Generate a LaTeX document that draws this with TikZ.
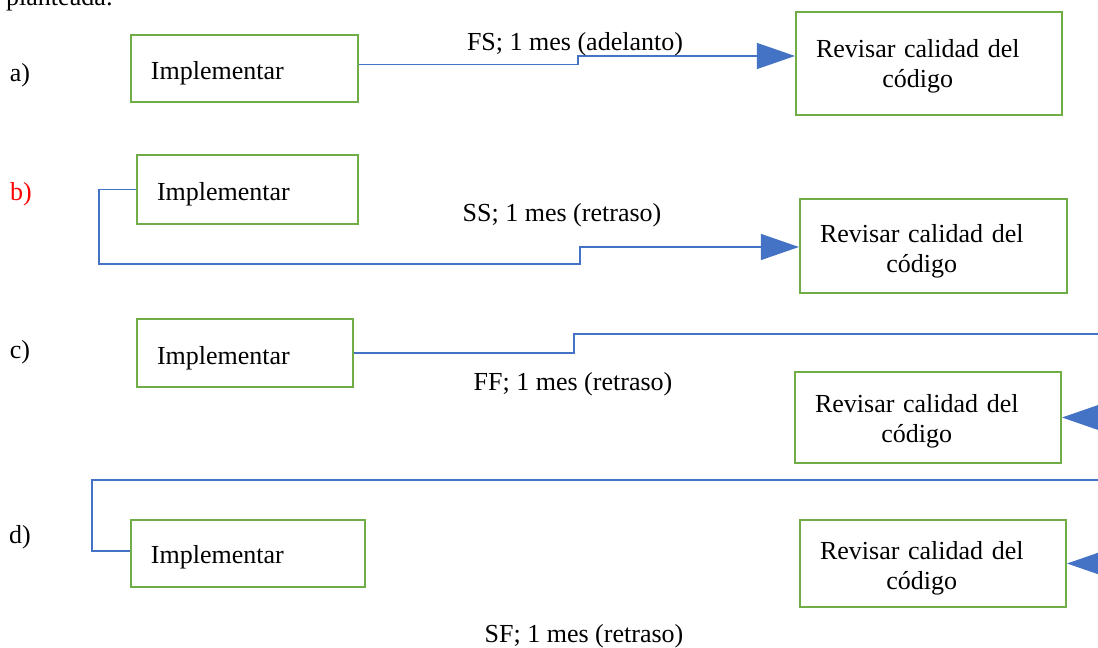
\documentclass[tikz,border=0pt]{standalone}
\usepackage{fontspec}
\setmainfont{Liberation Serif}
\usetikzlibrary{arrows.meta}
\definecolor{verde}{HTML}{70AD47}
\definecolor{azul}{HTML}{4472C4}
\newcommand{\revisar}{\begin{tabular}[t]{@{}c@{}}Revisar calidad del\\código\end{tabular}}

\begin{document}
\begin{tikzpicture}[x=0.2mm, y=-0.2mm,
    every node/.style={font=\fontsize{14.8}{17}\selectfont},
    tarea/.style={draw=verde, line width=1.2pt, inner xsep=4mm, inner ysep=0pt, align=left},
    linea/.style={draw=azul, line width=0.6pt},
    flecha/.style={linea, -{Triangle[length=7.6mm, width=5.2mm]}}]
   \useasboundingbox (0,0) rectangle (1098,648);
   \node[anchor=base west] (intro) at (0,6) {planteada:};

   % a) FS
   \node (la) at (20,75) {a)};
   \node[tarea, text width=37.4mm, text height=9mm, text depth=4.4mm] (impla) at (244.5,68.5) {Implementar};
   \node[tarea, text width=45.2mm, text height=9.2mm, text depth=11.4mm] (revisa) at (929,63.5) {\revisar};
   \draw[flecha] ([yshift=0.8mm]impla.east) -| (578,56) -- (revisa.west |- 578,56);
   \node (eta) at (575,44) {FS; 1 mes (adelanto)};

   % b) SS
   \node[text=red] (lb) at (21,194) {b)};
   \node[tarea, text width=36.2mm, text height=9.2mm, text depth=4.6mm] (implb) at (247.5,189.5) {Implementar};
   \node[tarea, text width=45.4mm, text height=8.8mm, text depth=10mm] (revb) at (933.5,246) {\revisar};
   \draw[flecha] (implb.west) -| (99,264) -| (580,247) -- (revb.west |- 580,247);
   \node (etb) at (562,215) {SS; 1 mes (retraso)};

   % c) FF
   \node (lc) at (20,352) {c)};
   \node[tarea, text width=35.2mm, text height=9.2mm, text depth=4.4mm] (implc) at (245,353) {Implementar};
   \node[tarea, text width=45.2mm, text height=8.2mm, text depth=10mm] (revc) at (928,417.5) {\revisar};
   \coordinate (finc) at (1110,334);
   \coordinate (inic) at (1110,417.5);
   \draw[linea] (implc.east) -| (574,334) -- (finc);
   \draw[flecha] (inic) -- (revc.east);
   \node (etc) at (573,384) {FF; 1 mes (retraso)};

   % d) SF
   \node (ld) at (20,537) {d)};
   \node[tarea, text width=38.8mm, text height=8.8mm, text depth=4.6mm] (impld) at (248,553.5) {Implementar};
   \node[tarea, text width=45.2mm, text height=8mm, text depth=9.4mm] (revd) at (933,563.5) {\revisar};
   \coordinate (inid) at (1110,480);
   \coordinate (inie) at (1110,563.5);
   \draw[linea] (inid) -| (92,551) -- (impld.west |- 92,551);
   \draw[flecha] (inie) -- (revd.east);
   \node (etd) at (584,636) {SF; 1 mes (retraso)};
 \end{tikzpicture}
\end{document}
